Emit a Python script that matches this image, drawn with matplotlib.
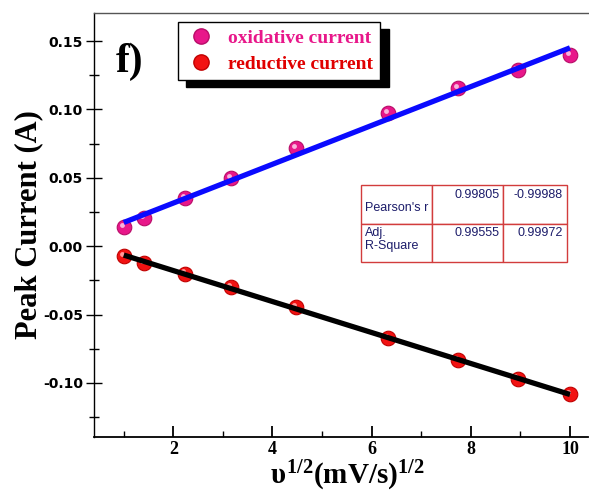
import numpy as np
import matplotlib
matplotlib.use("Agg")
import matplotlib.pyplot as plt
from matplotlib.patches import Rectangle
from matplotlib.lines import Line2D
import matplotlib.transforms as mtransforms

# datos
scan_sqrt = [1.0, 1.414, 2.236, 3.162, 4.472, 6.325, 7.746, 8.944, 10.0]
i_ox = [0.0137, 0.0203, 0.0349, 0.0497, 0.0715, 0.0971, 0.1154, 0.1288, 0.1397]
i_red = [-0.0073, -0.0122, -0.0200, -0.0298, -0.0446, -0.0671, -0.0834, -0.0968, -0.1083]

legend_labels = ["oxidative current", "reductive current"]
table_rows = ["Pearson's r", "Adj.\nR-Square"]
table_vals = [["0.99805", "-0.99988"], ["0.99555", "0.99972"]]

plt.rcParams['mathtext.fontset'] = 'custom'
plt.rcParams['mathtext.rm'] = 'Liberation Serif:bold'
plt.rcParams['mathtext.it'] = 'Liberation Serif:bold'
plt.rcParams['mathtext.bf'] = 'Liberation Serif:bold'

fig = plt.figure(figsize=(5.89, 4.94), dpi=100)
ax = fig.add_axes([0.1596, 0.1154, 0.8384, 0.8583])

x = np.array(scan_sqrt)
ox_col, ox_hi, ox_edge = '#e8178a', '#f9b3dc', '#b80c68'
red_col, red_hi, red_edge = '#f21212', '#ff9a9a', '#c00000'

# marcadores tipo esfera
hl = mtransforms.offset_copy(ax.transData, fig=fig, x=-1.6, y=1.6, units='points')
ax.plot(x, i_ox, 'o', ms=10.5, color=ox_col, mec=ox_edge, mew=0.8, zorder=3)
ax.plot(x, i_ox, 'o', ms=3.5, color=ox_hi, mew=0, transform=hl, zorder=3)
ax.plot(x, i_red, 'o', ms=10.5, color=red_col, mec=red_edge, mew=0.8, zorder=3)
ax.plot(x, i_red, 'o', ms=3.5, color=red_hi, mew=0, transform=hl, zorder=3)

# ajustes lineales
p_ox = np.polyfit(x, i_ox, 1)
p_red = np.polyfit(x, i_red, 1)
ax.plot(x[[0, -1]], np.polyval(p_ox, x[[0, -1]]), color='#0a0aff', lw=3.8, zorder=4, solid_capstyle='butt')
ax.plot(x[[0, -1]], np.polyval(p_red, x[[0, -1]]), color='black', lw=3.8, zorder=4, solid_capstyle='butt')

ax.set_xlim(0.40, 10.36)
ax.set_ylim(-0.1395, 0.1705)
ax.set_xticks([2, 4, 6, 8, 10])
ax.set_xticks([1, 3, 5, 7, 9], minor=True)
ax.set_yticks([-0.10, -0.05, 0.00, 0.05, 0.10, 0.15])
ax.set_yticks([-0.125, -0.075, -0.025, 0.025, 0.075, 0.125], minor=True)
ax.set_yticklabels(['-0.10', '-0.05', '0.00', '0.05', '0.10', '0.15'])
ax.tick_params(axis='x', which='major', direction='in', length=8, width=1.3, pad=3)
ax.tick_params(axis='x', which='minor', direction='in', length=4, width=1.0)
ax.tick_params(axis='y', which='major', direction='inout', length=12, width=1.0, pad=2)
ax.tick_params(axis='y', which='minor', direction='inout', length=7, width=1.0)
for lab in ax.get_xticklabels():
    lab.set_fontfamily('Liberation Serif')
    lab.set_fontweight('bold')
    lab.set_fontsize(13)
for lab in ax.get_yticklabels():
    lab.set_fontfamily('DejaVu Sans')
    lab.set_fontweight('bold')
    lab.set_fontsize(10)

ax.spines['right'].set_visible(False)
ax.spines['top'].set_color('#555555')
ax.spines['top'].set_linewidth(1.0)
ax.spines['left'].set_linewidth(1.0)
ax.spines['bottom'].set_linewidth(1.3)

ax.set_ylabel('Peak Current (A)', fontfamily='Liberation Serif', fontweight='bold', fontsize=22)
ax.yaxis.set_label_coords(-0.103, 0.5)
ax.set_xlabel(r'$\upsilon^{1/2}$(mV/s)$^{1/2}$', fontfamily='Liberation Serif', fontweight='bold', fontsize=21)
ax.xaxis.set_label_coords(0.514, -0.052)

ax.text(0.045, 0.885, 'f)', transform=ax.transAxes, fontfamily='Liberation Serif', fontweight='bold',
        fontsize=30, va='center', ha='left')

# leyenda con sombra
handles = [Line2D([], [], ls='none', marker='o', ms=11, color=ox_col, mec=ox_edge),
           Line2D([], [], ls='none', marker='o', ms=11, color=red_col, mec=red_edge)]
leg = ax.legend(handles, legend_labels, loc='upper left', bbox_to_anchor=(0.170, 0.979),
                borderaxespad=0, frameon=True, fancybox=False, edgecolor='black',
                shadow={'color': 'black', 'alpha': 1.0, 'ox': 6, 'oy': -5},
                labelcolor=[ox_col, '#e00000'],
                prop={'family': 'Liberation Serif', 'weight': 'bold', 'size': 14},
                handletextpad=0.55, labelspacing=0.4, borderpad=0.4, handlelength=1.6)
leg.get_frame().set_linewidth(1.0)
leg.set_zorder(6)

# tabla de estadisticos
tx0, ty0, tw, th = 0.5405, 0.4127, 0.4170, 0.1810
col_w = [0.343, 0.348, 0.309]
row_h = [0.5, 0.5]
edge = '#d23c3c'
txt_col = '#1c1c6a'
cx = tx0
for j, cw in enumerate(col_w):
    cy = ty0 + th
    for i, rh in enumerate(row_h):
        cy -= rh * th
        ax.add_patch(Rectangle((cx, cy), cw * tw, rh * th, transform=ax.transAxes,
                               facecolor='white', edgecolor=edge, lw=1.0, zorder=5))
        if j == 0:
            if i == 0:
                ax.text(cx + 0.008, cy + rh * th * 0.42, table_rows[i], transform=ax.transAxes,
                        fontfamily='Liberation Sans', fontsize=9, color=txt_col, va='center', ha='left', zorder=6)
            else:
                ax.text(cx + 0.008, cy + rh * th - 0.008, table_rows[i], transform=ax.transAxes,
                        fontfamily='Liberation Sans', fontsize=9, color=txt_col, va='top', ha='left',
                        linespacing=1.1, zorder=6)
        else:
            ax.text(cx + cw * tw - 0.008, cy + rh * th - 0.008, table_vals[i][j - 1], transform=ax.transAxes,
                    fontfamily='Liberation Sans', fontsize=9, color=txt_col, va='top', ha='right', zorder=6)
    cx += cw * tw

fig.savefig('out.png', dpi=100)
